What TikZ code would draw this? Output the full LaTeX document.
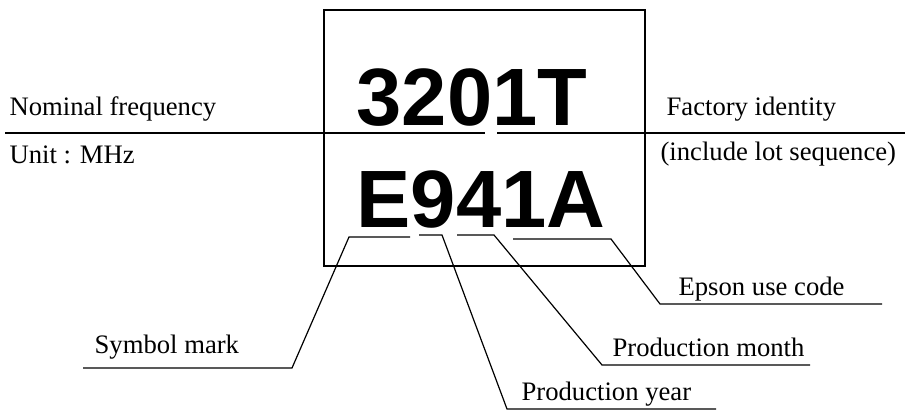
\documentclass[tikz,border=0pt]{standalone}
\usepackage{fontspec}
\setmainfont{Liberation Serif}
\newfontfamily\marksans{Liberation Sans}
\usetikzlibrary{positioning}

\begin{document}
\begin{tikzpicture}[x=0.75pt, y=-0.75pt, line width=0.9pt,
		lbl/.style={anchor=base west, inner sep=0pt, font=\fontsize{20}{24}\selectfont},
		code/.style={anchor=base west, inner sep=0pt, font=\marksans\bfseries\fontsize{61}{70}\selectfont}]
		\useasboundingbox (0,0) rectangle (905,410);
		\node[draw, minimum width=240.75pt, minimum height=192pt, inner sep=0pt] (chip) at (484.5,138) {};
		\node[code] (freq) at (356,125) {3201T};
		\node[code] (lot) at (356,227) {E941A};
		
		% dividing line
		\coordinate (divL) at (5,133);
		\coordinate (divM) at (485,133);
		\coordinate (divN) at (497,133);
		\coordinate (divR) at (905,133);
		\draw (divL) -- (divM);
		\draw (divN) -- (divR);
		
		\node[lbl] (nom) at (9,115) {Nominal frequency};
		\node[lbl] (unit) at (9,163) {Unit : MHz};
		\node[lbl] (fact) at (666,115) {Factory identity};
		\node[lbl] (incl) at (660,160) {(include lot sequence)};
		
		% leaders
		\coordinate (symA) at (410,237);
		\coordinate (symB) at (349,237);
		\coordinate (symC) at (292,368);
		\coordinate (symD) at (83,368);
		\draw (symA) -- (symB) -- (symC) -- (symD);
		\node[lbl] (sym) at (94,353) {Symbol mark};
		
		\coordinate (yrA) at (419,235);
		\coordinate (yrB) at (442,235);
		\coordinate (yrC) at (507,409);
		\coordinate (yrD) at (716,409);
		\draw (yrA) -- (yrB) -- (yrC) -- (yrD);
		\node[lbl] (year) at (521,400) {Production year};
		
		\coordinate (moA) at (457,235);
		\coordinate (moB) at (494,235);
		\coordinate (moC) at (602,365);
		\coordinate (moD) at (810,365);
		\draw (moA) -- (moB) -- (moC) -- (moD);
		\node[lbl] (month) at (612,356) {Production month};
		
		\coordinate (epA) at (513,239);
		\coordinate (epB) at (611,239);
		\coordinate (epC) at (660,304);
		\coordinate (epD) at (882,304);
		\draw (epA) -- (epB) -- (epC) -- (epD);
		\node[lbl] (epson) at (678,295) {Epson use code};
	\end{tikzpicture}
\end{document}
